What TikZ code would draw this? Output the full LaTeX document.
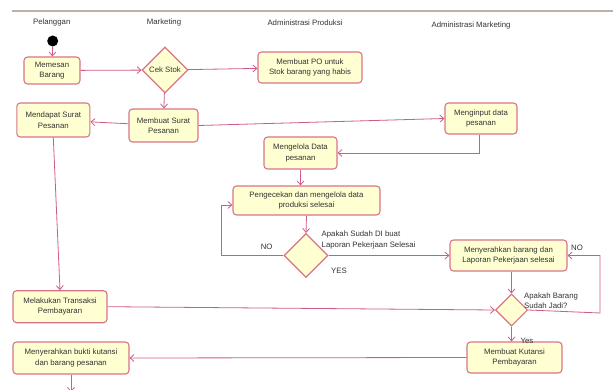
\documentclass[tikz,border=0pt]{standalone}
\usepackage{fontspec}
\setmainfont{Liberation Sans}
\usetikzlibrary{arrows.meta,shapes.geometric,calc}
\definecolor{boxfill}{HTML}{FFFFD2}
\definecolor{boxline}{HTML}{D87488}
\definecolor{conn}{HTML}{CF5A8C}
\definecolor{txt}{HTML}{333333}
\definecolor{topline}{HTML}{BDB2A8}
\begin{document}
\begin{tikzpicture}[x=1pt,y=-1pt,
  every node/.style={font=\fontsize{7.8}{10.5}\selectfont, text=txt},
  act/.style={draw=boxline, fill=boxfill, line width=1.1pt, rounded corners=3.5pt,
    inner sep=0pt, align=center},
  dec/.style={draw=boxline, fill=boxfill, line width=1.1pt, diamond, inner sep=0pt,
    minimum width=#1, minimum height=#1},
  flow/.style={draw=conn, line width=0.8pt, -{Straight Barb[length=4pt,width=7pt]}},
  lbl/.style={inner sep=0pt, align=left},
  hdr/.style={inner sep=0pt}
]
\useasboundingbox (0,0) rectangle (613,390);
\draw[topline, line width=2pt] (11.7,11) -- (613,11);

% headers
\node[hdr] (h1) at (51.7,22) {Pelanggan};
\node[hdr] (h2) at (164,22) {Marketing};
\node[hdr] (h3) at (305,22.5) {Administrasi Produksi};
\node[hdr] (h4) at (471,25) {Administrasi Marketing};

% nodes
\node[circle, fill=black, inner sep=0pt, minimum size=11pt] (start) at (52.7,41) {};
\node[act, minimum width=56pt, minimum height=27pt] (memesan) at (52,70.5) {Memesan\\Barang};
\node[dec=46pt] (cek) at (165,70) {Cek Stok};
\node[act, minimum width=104pt, minimum height=31pt] (po) at (310,67.5) {Membuat PO untuk\\Stok barang yang habis};
\node[act, minimum width=69pt, minimum height=33pt] (surat) at (163.5,125.5) {Membuat Surat\\Pesanan};
\node[act, minimum width=73pt, minimum height=34pt] (mendapat) at (53.3,120) {Mendapat Surat\\Pesanan};
\node[act, minimum width=72pt, minimum height=31pt] (menginput) at (481,118.5) {Menginput data\\pesanan};
\node[act, minimum width=73pt, minimum height=32pt] (mengelola) at (300.5,153) {Mengelola Data\\pesanan};
\node[act, minimum width=147pt, minimum height=29pt] (cekprod) at (306.5,200.5) {Pengecekan dan mengelola data\\produksi selesai};
\node[dec=44pt] (d1) at (306,255.5) {};
\node[act, minimum width=117pt, minimum height=31pt] (serah) at (508.5,255.5) {Menyerahkan barang dan\\Laporan Pekerjaan selesai};
\node[dec=32pt] (d2) at (511.5,310) {};
\node[act, minimum width=94pt, minimum height=32pt] (transaksi) at (60,306.7) {Melakukan Transaksi\\Pembayaran};
\node[act, minimum width=116pt, minimum height=32pt] (bukti) at (71,358) {Menyerahkan bukti kutansi\\dan barang pesanan};
\node[act, minimum width=95pt, minimum height=31pt] (kuitansi) at (514.5,357.5) {Membuat Kutansi\\Pembayaran};

% labels
\node[lbl, anchor=west] (l1) at (321.5,240) {Apakah Sudah DI buat\\Laporan Pekerjaan Selesai};
\node[hdr] (l2) at (266.7,247) {NO};
\node[hdr] (l3) at (339,271) {YES};
\node[hdr] (l4) at (577,247.5) {NO};
\node[lbl, anchor=west] (l5) at (524,300.5) {Apakah Barang\\Sudah Jadi?};
\node[hdr] (l6) at (527,341) {Yes};

% coordinates
\coordinate (loopA) at (221,255.5);
\coordinate (loopB) at (600,313);
\coordinate (endp) at (71,392);

% connectors
\draw[flow] (start) -- (memesan);
\draw[flow] (memesan) -- (cek);
\draw[flow] (cek) -- (po);
\draw[flow] (cek) -- (surat);
\draw[flow] (surat) -- (mendapat);
\draw[flow] (surat.east) -- (menginput.west);
\draw[flow] ([xshift=-2pt]menginput.south) |- (mengelola.east);
\draw[flow] (mengelola.south) -- (mengelola.south |- cekprod.north);
\draw[flow] (cekprod.south) -- (d1.north);
\draw[flow] (d1.west) -- (loopA) |- ([yshift=-4.5pt]cekprod.west);
\draw[flow] (d1.east) -- (serah.west);
\draw[flow] (d2.north |- serah.south) -- (d2.north);
\draw[flow] (d2.east) -- (loopB) |- (serah.east);
\draw[flow] (transaksi.east) -- (d2.west);
\draw[flow] (d2.south) -- (d2.south |- kuitansi.north);
\draw[flow] (kuitansi.west) -- (bukti.east);
\draw[flow] (mendapat.south) -- (transaksi.north);
\draw[flow] (bukti.south) -- (endp);
\end{tikzpicture}
\end{document}
